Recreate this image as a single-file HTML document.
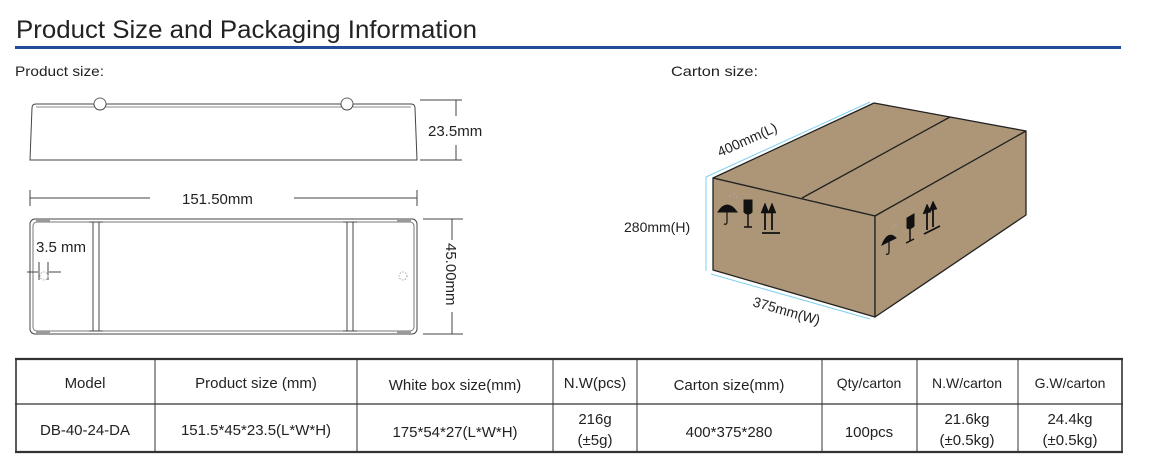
<!DOCTYPE html>
<html><head><meta charset="utf-8"><style>
html,body{margin:0;padding:0;background:#fff;}
svg{display:block;font-family:"Liberation Sans",sans-serif;}
</style></head><body>
<svg width="1162" height="472" viewBox="0 0 1162 472" xmlns="http://www.w3.org/2000/svg">
<text x="16" y="38" font-size="25" fill="#222" textLength="461" lengthAdjust="spacingAndGlyphs">Product Size and Packaging Information</text>
<rect x="15" y="46" width="1106" height="3" fill="#1f4e96"/>
<text x="15" y="76" font-size="14" fill="#222" textLength="89" lengthAdjust="spacingAndGlyphs">Product size:</text>
<text x="671" y="76" font-size="14" fill="#222" textLength="87" lengthAdjust="spacingAndGlyphs">Carton size:</text>

<!-- side view -->
<g fill="none" stroke="#444" stroke-width="1">
<path d="M30,160 L32,108 Q32,104 36,104 L94,104 A6,6 0 1 0 106,104 L341,104 A6,6 0 1 0 353,104 L411,104 Q415,104 415,108 L417,160 Z"/>
<path d="M94,104 A6,6 0 0 1 106,104 M341,104 A6,6 0 0 1 353,104" stroke="#666"/>
<path d="M36,107 L94,107 M106,107 L341,107 M353,107 L411,107" stroke="#888"/>
<path d="M420,100 L462,100 M456,100 L456,116 M456,145 L456,160 M420,160 L462,160"/>
<path d="M30,190 L30,206 M30,198 L150,198 M294,198 L417,198 M417,190 L417,206"/>
<!-- top view -->
<rect x="30" y="219" width="387" height="115" rx="5"/>
<rect x="33" y="222" width="381" height="109" rx="4" stroke="#777"/>
<path d="M93,222 L93,331 M99,222 L99,331 M347,222 L347,331 M353,222 L353,331"/>
<path d="M89,222 L103,222 M89,331 L103,331 M343,222 L357,222 M343,331 L357,331"/>
<path d="M423,219 L463,219 M452,219 L452,240 M452,312 L452,334 M423,334 L463,334"/>
<path d="M27,272 L38,272 M49,272 L61,272 M39,262 L39,280 M48,262 L48,280"/>
</g>
<g fill="#999"><rect x="36" y="219" width="14" height="3"/><rect x="36" y="331" width="14" height="3"/><rect x="397" y="219" width="14" height="3"/><rect x="397" y="331" width="14" height="3"/></g>
<circle cx="44" cy="276" r="4" fill="none" stroke="#aaa" stroke-dasharray="1.5,1.5"/>
<circle cx="403" cy="276" r="4" fill="none" stroke="#aaa" stroke-dasharray="1.5,1.5"/>
<text x="428" y="136" font-size="15" fill="#222">23.5mm</text>
<text x="182" y="204" font-size="15" fill="#222">151.50mm</text>
<text x="36" y="252" font-size="15" fill="#222">3.5 mm</text>
<text transform="translate(446,243) rotate(90)" font-size="15" fill="#222">45.00mm</text>

<!-- carton -->
<g stroke="#7fd0f0" stroke-width="1" fill="none">
<path d="M706,177 L870,102 M706,177 L706,271 M711,274 L870,319"/>
</g>
<g stroke="#222" stroke-width="1.3" stroke-linejoin="round">
<path d="M713,178 L874,103 L1026,131 L875,216 Z" fill="#ac9677"/>
<path d="M713,178 L875,216 L875,317 L713,270 Z" fill="#ac9677"/>
<path d="M875,216 L1026,131 L1026,215 L875,317 Z" fill="#ac9677"/>
<path d="M802,198 L950,117" fill="none"/>
</g>
<g fill="#111" stroke="#111">
<path d="M718,212 Q727,198 737,212 Z"/><path d="M727,212 L727,222 Q727,225 724,224" fill="none" stroke-width="1.2"/>
<path d="M744,200 L752,200 L752,212 Q748,216 744,212 Z"/><path d="M748,214 L748,227 M744,227 L752,227" fill="none" stroke-width="1.5"/>
<path d="M765,230 L765,212 M772,230 L772,212 M762,233 L780,233" fill="none" stroke-width="1.8"/>
<path d="M761,213 L765,203 L769,213 Z M768,213 L772,203 L776,213 Z" stroke-width="0.5"/>
<path d="M882,245 Q888,230 896,238 Z"/><path d="M889,242 L889,252 Q889,255 886,254" fill="none" stroke-width="1.2"/>
<path d="M907,218 L914,214 L914,226 Q910,230 907,228 Z"/><path d="M910,229 L910,241 M906,243 L914,239" fill="none" stroke-width="1.5"/>
<path d="M927,230 L927,213 M933,227 L933,210 M924,234 L940,226" fill="none" stroke-width="1.8"/>
<path d="M923,214 L927,204 L931,212 Z M929,211 L933,201 L937,209 Z" stroke-width="0.5"/>
</g>
<g fill="#aaa"><circle cx="730" cy="196" r="0.8"/><circle cx="734" cy="194" r="0.8"/><circle cx="737" cy="197" r="0.8"/><circle cx="893" cy="227" r="0.8"/><circle cx="896" cy="225" r="0.8"/></g>
<text x="624" y="232" font-size="14" fill="#222">280mm(H)</text>
<text transform="translate(720,157) rotate(-24)" font-size="14" fill="#222">400mm(L)</text>
<text transform="translate(752,306) rotate(16)" font-size="14" fill="#222">375mm(W)</text>

<!-- table -->
<g stroke="#333" fill="none">
<path d="M15,359 L1123,359 M15,452 L1123,452" stroke-width="2.2"/>
<path d="M16,359 L16,452 M1122,359 L1122,452" stroke-width="1.6"/>
<path d="M15,404 L1123,404" stroke-width="1.2"/>
<path d="M155,359V452 M357,359V452 M553,359V452 M637,359V452 M822,359V452 M917,359V452 M1018,359V452" stroke-width="1"/>
</g>
<g font-size="15" fill="#222" text-anchor="middle">
<text x="85" y="388">Model</text>
<text x="256" y="388">Product size (mm)</text>
<text x="455" y="390">White box size(mm)</text>
<text x="595" y="388">N.W(pcs)</text>
<text x="729" y="390">Carton size(mm)</text>
<text x="869" y="388" font-size="14">Qty/carton</text>
<text x="967" y="388" font-size="14">N.W/carton</text>
<text x="1070" y="388" font-size="14">G.W/carton</text>
<text x="85" y="435">DB-40-24-DA</text>
<text x="256" y="435">151.5*45*23.5(L*W*H)</text>
<text x="455" y="437">175*54*27(L*W*H)</text>
<text x="595" y="424">216g</text>
<text x="595" y="445">(±5g)</text>
<text x="729" y="437">400*375*280</text>
<text x="869" y="437">100pcs</text>
<text x="967" y="424">21.6kg</text>
<text x="967" y="445">(±0.5kg)</text>
<text x="1070" y="424">24.4kg</text>
<text x="1070" y="445">(±0.5kg)</text>
</g>
</svg>
</body></html>
